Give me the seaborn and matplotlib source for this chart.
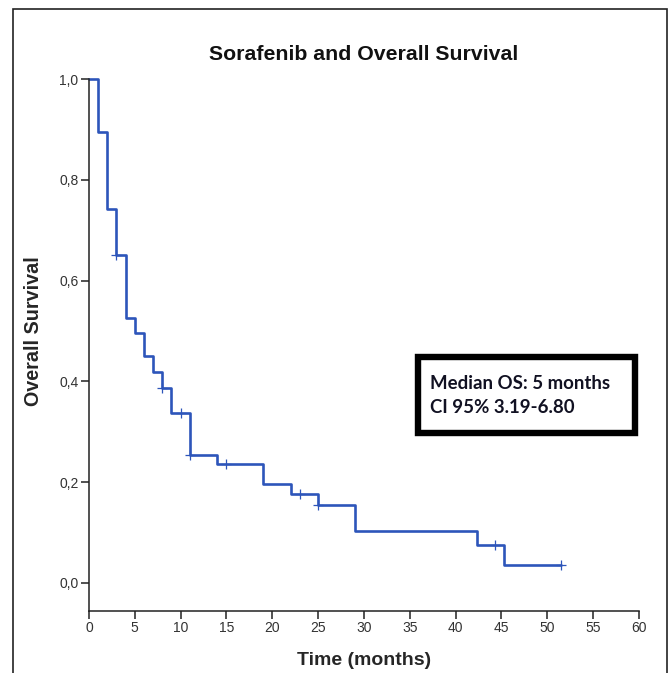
import matplotlib
matplotlib.use("Agg")
import matplotlib.pyplot as plt
import seaborn as sns
import pandas as pd
from matplotlib.patches import Rectangle

# Kaplan-Meier steps
times = [0, 1, 2, 3, 4, 5, 6, 7, 8, 9, 11, 14, 19, 22, 25, 29, 42.3, 45.3, 51.5]
survival = [1.0, 0.894, 0.741, 0.651, 0.526, 0.496, 0.450, 0.419, 0.387, 0.338,
            0.253, 0.235, 0.197, 0.177, 0.154, 0.102, 0.076, 0.036, 0.036]

# censored observations (+ marks)
censor_times = [3, 8, 10, 11, 15, 23, 25, 44.3, 51.5]
censor_surv = [0.651, 0.387, 0.338, 0.253, 0.235, 0.177, 0.154, 0.076, 0.036]

xticks = [0, 5, 10, 15, 20, 25, 30, 35, 40, 45, 50, 55, 60]
yticks = [0.0, 0.2, 0.4, 0.6, 0.8, 1.0]
ytick_labels = ["0,0", "0,2", "0,4", "0,6", "0,8", "1,0"]

title = "Sorafenib and Overall Survival"
xlabel = "Time (months)"
ylabel = "Overall Survival"
box_lines = ["Median OS: 5 months", "CI 95% 3.19-6.80"]

sns.set_style("ticks")
plt.rcParams["font.family"] = ["Liberation Sans", "DejaVu Sans"]

blue = "#2d55ba"

df_km = pd.DataFrame({"time": times, "survival": survival})
df_cens = pd.DataFrame({"time": censor_times, "survival": censor_surv})

fig = plt.figure(figsize=(6.72, 6.73), dpi=100)
ax = fig.add_axes([0.1324, 0.0921, 0.8185, 0.7905])

sns.lineplot(data=df_km, x="time", y="survival", drawstyle="steps-post",
             estimator=None, sort=False, color=blue, linewidth=1.9, ax=ax,
             clip_on=False)
sns.scatterplot(data=df_cens, x="time", y="survival", marker="+", s=50,
                color=blue, linewidth=0.9, ax=ax, zorder=3, clip_on=False)

ax.set_xlim(0, 60)
ax.set_ylim(-0.056, 1.0)
ax.set_xticks(xticks)
ax.set_xticklabels([str(t) for t in xticks])
ax.set_yticks(yticks)
ax.set_yticklabels(ytick_labels)

for side in ["top", "right"]:
    ax.spines[side].set_visible(False)
for side in ["left", "bottom"]:
    ax.spines[side].set_color("#222222")
    ax.spines[side].set_linewidth(1.1)

ax.tick_params(axis="both", direction="out", length=5.5, width=1.1,
               color="#222222", labelsize=10, labelcolor="#333333", pad=2,
               bottom=True, left=True)

ax.set_title(title, fontsize=15.3, fontweight="bold", pad=14, color="#111111")
ax.set_xlabel(xlabel, fontsize=14, fontweight="bold", labelpad=12)
ax.set_ylabel(ylabel, fontsize=14.2, fontweight="bold")
ax.yaxis.set_label_coords(-0.083, 0.526)

# annotation box
fig.patches.append(Rectangle((418 / 672, 1 - 433 / 673), 217 / 672, 76 / 673,
                             transform=fig.transFigure, fill=False,
                             edgecolor="black", linewidth=4.6, zorder=5))
fig.text(430 / 672, 1 - 389 / 673, box_lines[0], fontsize=13.4, fontweight="bold",
         family=["Lato", "DejaVu Sans"], color="#111122")
fig.text(430 / 672, 1 - 413 / 673, box_lines[1], fontsize=13.4, fontweight="bold",
         family=["Lato", "DejaVu Sans"], color="#111122")

# outer frame
fig.patches.append(Rectangle((13 / 672, -0.05), 654 / 672, 1.05 - 9 / 673,
                             transform=fig.transFigure, fill=False,
                             edgecolor="#222222", linewidth=1.2))

fig.savefig("out.png", dpi=100)
